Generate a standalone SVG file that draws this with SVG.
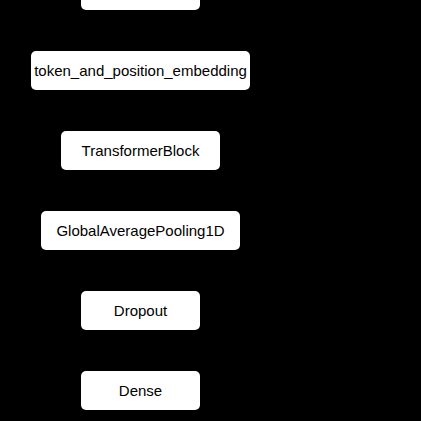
<svg xmlns="http://www.w3.org/2000/svg" width="421" height="421" viewBox="0 0 421 421">
<defs>
<style>
.box{fill:#ffffff;stroke:none}
.lbl{font-family:"Liberation Sans",Arial,Helvetica,sans-serif;font-size:15px;fill:#000000;text-anchor:middle}
.edge{stroke:#000000;stroke-width:1;fill:none;marker-end:url(#arr)}
</style>
<marker id="arr" markerWidth="8" markerHeight="8" refX="7" refY="4" orient="auto" markerUnits="userSpaceOnUse">
<path d="M0,0 L8,4 L0,8 z" fill="#000000"/>
</marker>
</defs>
<rect x="0" y="0" width="421" height="421" fill="#000000"/>
<g id="connectors">
<line class="edge" x1="140.5" y1="10" x2="140.5" y2="51"/>
<line class="edge" x1="140.5" y1="90" x2="140.5" y2="131"/>
<line class="edge" x1="140.5" y1="170" x2="140.5" y2="211"/>
<line class="edge" x1="140.5" y1="250" x2="140.5" y2="291"/>
<line class="edge" x1="140.5" y1="330" x2="140.5" y2="371"/>
</g>
<g id="node-input">
<rect class="box" x="81" y="-29" width="119" height="39" rx="5"/>
</g>
<g id="node-embedding">
<rect class="box" x="31" y="51" width="219" height="39" rx="5"/>
<text class="lbl" x="140.5" y="76">token_and_position_embedding</text>
</g>
<g id="node-transformer">
<rect class="box" x="61" y="131" width="159" height="39" rx="5"/>
<text class="lbl" x="140.5" y="156">TransformerBlock</text>
</g>
<g id="node-gap">
<rect class="box" x="41" y="211" width="199" height="39" rx="5"/>
<text class="lbl" x="140.5" y="236">GlobalAveragePooling1D</text>
</g>
<g id="node-dropout">
<rect class="box" x="81" y="291" width="119" height="39" rx="5"/>
<text class="lbl" x="140.5" y="316">Dropout</text>
</g>
<g id="node-dense">
<rect class="box" x="81" y="371" width="119" height="39" rx="5"/>
<text class="lbl" x="140.5" y="396">Dense</text>
</g>
</svg>
